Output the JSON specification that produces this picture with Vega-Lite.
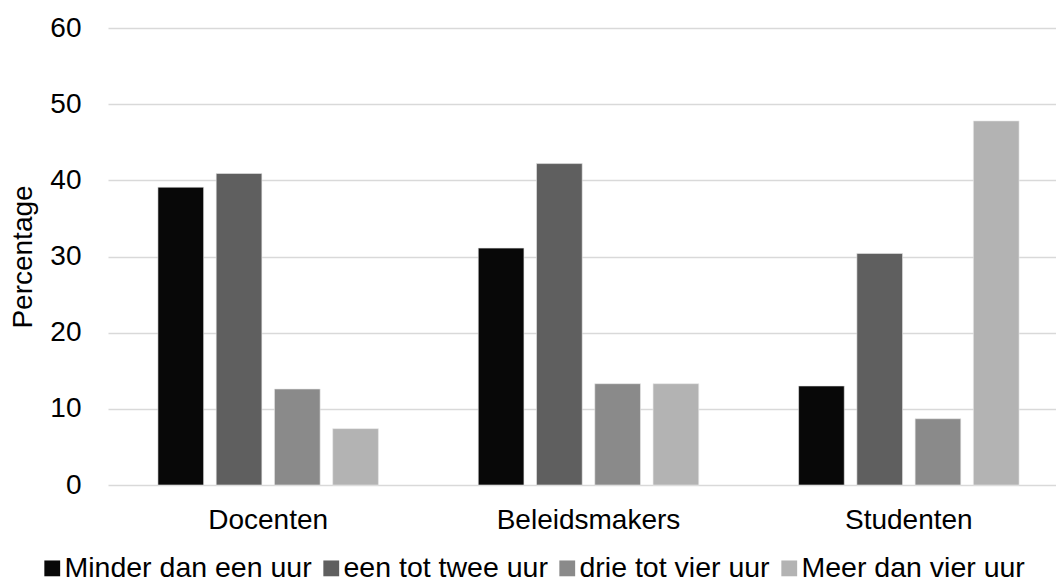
{
  "$schema": "https://vega.github.io/schema/vega-lite/v6.json",
  "autosize": "none",
  "width": 948,
  "height": 457,
  "padding": {"left": 108, "top": 28, "right": 0, "bottom": 102},
  "background": "white",
  "config": {"view": {"stroke": null}, "font": "Liberation Sans"},
  "data": {
    "values": [
      {"groep": "Docenten", "tijd": "Minder dan een uur", "percentage": 39.1},
      {"groep": "Docenten", "tijd": "een tot twee uur", "percentage": 40.9},
      {"groep": "Docenten", "tijd": "drie tot vier uur", "percentage": 12.6},
      {"groep": "Docenten", "tijd": "Meer dan vier uur", "percentage": 7.4},
      {"groep": "Beleidsmakers", "tijd": "Minder dan een uur", "percentage": 31.1},
      {"groep": "Beleidsmakers", "tijd": "een tot twee uur", "percentage": 42.2},
      {"groep": "Beleidsmakers", "tijd": "drie tot vier uur", "percentage": 13.3},
      {"groep": "Beleidsmakers", "tijd": "Meer dan vier uur", "percentage": 13.3},
      {"groep": "Studenten", "tijd": "Minder dan een uur", "percentage": 13.0},
      {"groep": "Studenten", "tijd": "een tot twee uur", "percentage": 30.4},
      {"groep": "Studenten", "tijd": "drie tot vier uur", "percentage": 8.7},
      {"groep": "Studenten", "tijd": "Meer dan vier uur", "percentage": 47.8}
    ]
  },
  "mark": {"type": "bar", "stroke": "#e8e8e8", "strokeWidth": 0.6},
  "encoding": {
    "x": {
      "field": "groep",
      "type": "nominal",
      "sort": ["Docenten", "Beleidsmakers", "Studenten"],
      "scale": {"range": [0, 961], "paddingInner": 0, "paddingOuter": 0},
      "axis": {"title": null, "labelAngle": 0, "labelFontSize": 28, "labelColor": "black", "labelLimit": 400, "domain": false, "ticks": false, "labelPadding": 21}
    },
    "xOffset": {
      "field": "tijd",
      "type": "nominal",
      "sort": ["Minder dan een uur", "een tot twee uur", "drie tot vier uur", "Meer dan vier uur"],
      "scale": {"paddingInner": 0.216, "paddingOuter": 0.857}
    },
    "y": {
      "field": "percentage",
      "type": "quantitative",
      "scale": {"domain": [0, 60]},
      "axis": {
        "title": "Percentage",
        "values": [0, 10, 20, 30, 40, 50, 60],
        "grid": true,
        "gridColor": "#d9d9d9",
        "gridWidth": 1.5,
        "domain": false,
        "ticks": false,
        "labelPadding": 27,
        "labelFontSize": 28,
        "labelColor": "black",
        "titleFontSize": 28,
        "titleFontWeight": "normal",
        "titleColor": "black",
        "titlePadding": 12
      }
    },
    "color": {
      "field": "tijd",
      "type": "nominal",
      "sort": ["Minder dan een uur", "een tot twee uur", "drie tot vier uur", "Meer dan vier uur"],
      "scale": {
        "domain": ["Minder dan een uur", "een tot twee uur", "drie tot vier uur", "Meer dan vier uur"],
        "range": ["#080808", "#5f5f5f", "#8a8a8a", "#b3b3b3"]
      },
      "legend": {
        "orient": "none",
        "legendX": -70,
        "legendY": 526,
        "direction": "horizontal",
        "title": null,
        "symbolType": "square",
        "symbolSize": 250,
        "symbolStrokeWidth": 0,
        "labelFontSize": 28.5,
        "labelColor": "black",
        "labelLimit": 400,
        "labelOffset": -2,
        "columnPadding": 5
      }
    }
  }
}
